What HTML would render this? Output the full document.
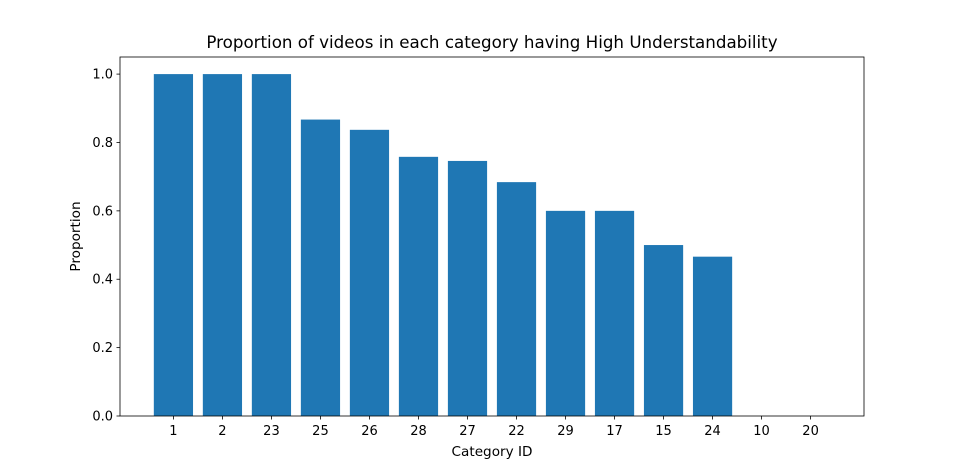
<!DOCTYPE html>
<html><head><meta charset="utf-8"><style>body{margin:0;background:#fff}svg{display:block;font-family:"DejaVu Sans","Liberation Sans",sans-serif}</style></head>
<body>
<svg id="chart" width="960" height="467"></svg>
<script>
const categories=["1","2","23","25","26","28","27","22","29","17","15","24","10","20"];
const proportions=[1,1,1,0.867,0.837,0.758,0.746,0.684,0.6,0.6,0.5,0.466,0,0];
const yTicks=[0,0.2,0.4,0.6,0.8,1.0];
const NS="http://www.w3.org/2000/svg";
const svg=document.getElementById('chart');
const L=120,R=864,T=57,B=416;
const xmin=-1.09,xmax=categories.length-1+1.09,ymax=1.05;
const x=i=>L+(i-xmin)/(xmax-xmin)*(R-L);
const y=v=>B-v/ymax*(B-T);
const bw=0.8*(R-L)/(xmax-xmin);
function mk(t,a,txt){const e=document.createElementNS(NS,t);for(const k in a)e.setAttribute(k,a[k]);if(txt!==undefined)e.textContent=txt;svg.appendChild(e);return e;}
proportions.forEach((v,i)=>{const e=mk('rect',{x:x(i)-bw/2,y:y(v),width:bw,height:B-y(v),fill:'#1f77b4'});

});
categories.forEach((c,i)=>{mk('line',{x1:x(i),x2:x(i),y1:B,y2:B+3.5,stroke:'#000','stroke-width':0.8});
const t=mk('text',{x:x(i),y:B+19,'font-size':13,'text-anchor':'middle'},c);

});
yTicks.forEach(v=>{mk('line',{x1:L-3.5,x2:L,y1:y(v),y2:y(v),stroke:'#000','stroke-width':0.8});
const t=mk('text',{x:L-7,y:y(v)+4.5,'font-size':13,'text-anchor':'end'},v.toFixed(1));

});
const f=mk('rect',{x:L,y:T,width:R-L,height:B-T,fill:'none',stroke:'#000','stroke-width':0.8});


const ti=mk('text',{x:(L+R)/2,y:48,'font-size':16.7,'text-anchor':'middle'},'Proportion of videos in each category having High Understandability');


const xt=mk('text',{x:(L+R)/2,y:456,'font-size':13.6,'text-anchor':'middle'},'Category ID');


const yt=mk('text',{x:80,y:(T+B)/2,'font-size':13.6,'text-anchor':'middle',transform:'rotate(-90 80 '+((T+B)/2)+')'},'Proportion');


</script>
</body></html>
